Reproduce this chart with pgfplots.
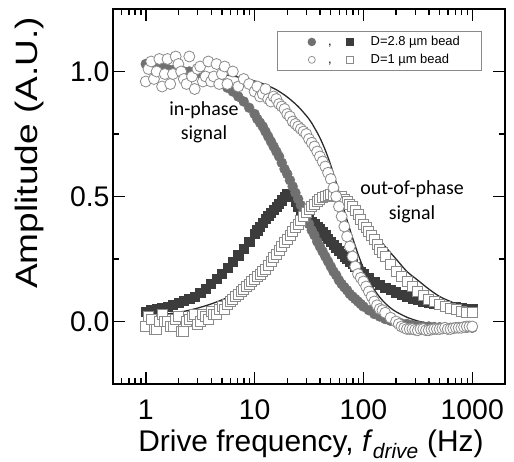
\documentclass[border=0pt]{standalone}
\usepackage{fontspec}
\setmainfont{Liberation Sans}
\newfontfamily\calibri{Carlito}
\usepackage{graphicx}
\usepackage{pgfplots}
\pgfplotsset{compat=1.18}
\definecolor{grayc}{HTML}{707070}
\definecolor{darks}{HTML}{3C3C3C}
\definecolor{openc}{HTML}{8A8A8A}
\definecolor{fitc}{HTML}{2A2A2A}
\begin{document}
\begin{tikzpicture}
\path[use as bounding box] (-113bp,-78bp) rectangle (401bp,384bp);
\begin{axis}[
  at={(0,0)}, anchor=south west, scale only axis,
  width=392bp, height=375bp,
  xmode=log, xmin=0.5, xmax=2000, ymin=-0.25, ymax=1.25,
  xtick={1,10,100,1000}, xticklabels={1,10,100,1000},
  minor xtick={0.5,0.6,0.7,0.8,0.9,2,3,4,5,6,7,8,9,20,30,40,50,60,70,80,90,200,300,400,500,600,700,800,900},
  ytick={0,0.5,1}, yticklabels={0.0,0.5,1.0}, minor ytick={0.25,0.75},
  ticklabel style={font=\fontsize{28.5}{30}\selectfont},
  xticklabel style={yshift=-12bp},
  tick align=inside, major tick length=12bp, minor tick length=6bp,
  xtick style={black, line width=1.5bp},
  ytick style={black, line width=1.5bp},
  separate axis lines,
  axis line style={line width=2bp, line cap=rect},
  xlabel={Drive frequency, \textit{f}\textsubscript{\textit{drive}} (Hz)},
  xlabel style={font=\fontsize{30}{32}\selectfont, at={(axis description cs:0.505,-0.181)}, anchor=base},
  ylabel={\scalebox{1.2}[1]{Amplitude (A.U.)}},
  ylabel style={font=\fontsize{31}{33}\selectfont, at={(axis description cs:-0.214,0.616)}, anchor=center},
  legend style={at={(axis description cs:0.942,0.941)}, anchor=north east,
    draw=openc, line width=0.8bp, font=\fontsize{13}{15}\selectfont, row sep=3bp,
    inner xsep=4bp, inner ysep=3bp,
    /tikz/every odd column/.append style={column sep=15bp}},
  legend cell align=left,
]
\addlegendimage{legend image code/.code={
  \path[draw=none, fill=none] (-30bp,-1bp) rectangle (-30bp,1bp);
  \fill[grayc] (0bp,0bp) circle (3.8bp);
  \node[font=\fontsize{13}{15}\selectfont, inner sep=0pt, anchor=base] at (18bp,-4bp) {,};
  \fill[darks] (34.5bp,-3.5bp) rectangle (41.5bp,3.5bp);
}}
\addlegendentry{D=2.8 µm bead\rule{16bp}{0pt}}
\addlegendimage{legend image code/.code={
  \path[draw=none, fill=none] (-30bp,-1bp) rectangle (-30bp,1bp);
  \draw[openc, fill=white, line width=0.7bp] (0bp,0bp) circle (3.5bp);
  \node[font=\fontsize{13}{15}\selectfont, inner sep=0pt, anchor=base] at (18bp,-4bp) {,};
  \draw[openc, fill=white, line width=0.7bp] (34.8bp,-3.2bp) rectangle (41.2bp,3.2bp);
}}
\addlegendentry{D=1 µm bead}

% 2.8 um out-of-phase (filled dark squares)
\addplot[only marks, mark=square*, mark size=4.6bp, color=darks, forget plot] coordinates {
(1,0.04)(1.122,0.045)(1.259,0.05)(1.413,0.055)(1.585,0.06)(1.778,0.067)(1.995,0.075)(2.239,0.082)(2.512,0.09)(2.818,0.10)
(3.162,0.115)(3.548,0.13)(3.981,0.15)(4.467,0.17)(5.012,0.19)(5.623,0.215)(6.310,0.24)(7.079,0.265)(7.943,0.29)(8.913,0.32)
(10,0.35)(10.59,0.365)(11.22,0.38)(11.89,0.395)(12.59,0.41)(13.34,0.422)(14.13,0.435)(14.96,0.447)(15.85,0.46)(16.79,0.472)
(17.78,0.485)(18.84,0.50)(19.95,0.51)(21.13,0.51)(22.39,0.50)(23.71,0.48)(25.12,0.46)(26.61,0.445)(28.18,0.435)(29.85,0.42)
(31.62,0.41)(33.50,0.40)(35.48,0.39)(37.58,0.38)(39.81,0.37)(42.17,0.357)(44.67,0.345)(47.32,0.332)(50.12,0.32)(53.09,0.307)
(56.23,0.295)(59.57,0.282)(63.10,0.27)(66.83,0.26)(70.79,0.25)(74.99,0.24)(79.43,0.23)(84.14,0.22)(89.13,0.21)(94.41,0.20)
(100,0.19)(112.2,0.175)(125.9,0.16)(141.3,0.147)(158.5,0.135)(177.8,0.126)(199.5,0.117)(223.9,0.108)(251.2,0.10)(281.8,0.093)
(316.2,0.087)(354.8,0.081)(398.1,0.075)(446.7,0.071)(501.2,0.067)(562.3,0.063)(631.0,0.06)(707.9,0.057)(794.3,0.055)(891.3,0.052)(1000,0.05)
};
% 2.8 um in-phase (filled gray circles)
\addplot[only marks, mark=*, mark size=5bp, color=grayc, forget plot] coordinates {
(1,1.03)(1.122,1.025)(1.259,1.02)(1.413,1.015)(1.585,1.01)(1.778,1.005)(1.995,1.0)(2.239,1.0)(2.512,1.0)(2.818,0.995)
(3.162,0.99)(3.548,0.98)(3.981,0.97)(4.467,0.96)(5.012,0.95)(5.623,0.935)(6.310,0.92)(7.079,0.90)(7.943,0.88)(8.913,0.855)
(10,0.83)(10.59,0.81)(11.22,0.795)(11.89,0.78)(12.59,0.76)(13.34,0.74)(14.13,0.72)(14.96,0.70)(15.85,0.68)(16.79,0.66)
(17.78,0.635)(18.84,0.61)(19.95,0.59)(21.13,0.565)(22.39,0.54)(23.71,0.515)(25.12,0.49)(26.61,0.465)(28.18,0.44)(29.85,0.415)
(31.62,0.39)(33.50,0.365)(35.48,0.345)(37.58,0.32)(39.81,0.30)(42.17,0.28)(44.67,0.26)(47.32,0.24)(50.12,0.22)(53.09,0.20)
(56.23,0.185)(59.57,0.165)(63.10,0.15)(66.83,0.137)(70.79,0.125)(74.99,0.11)(79.43,0.10)(84.14,0.09)(89.13,0.08)(94.41,0.07)
(100,0.06)(112.2,0.045)(125.9,0.03)(141.3,0.02)(158.5,0.01)(177.8,0.003)(199.5,-0.003)(223.9,-0.008)(251.2,-0.01)(281.8,-0.014)
(316.2,-0.017)(354.8,-0.02)(398.1,-0.02)(446.7,-0.022)(501.2,-0.023)(562.3,-0.024)(631.0,-0.025)(707.9,-0.025)(794.3,-0.025)(891.3,-0.025)(1000,-0.025)
};
% 1 um out-of-phase (open squares)
\addplot[only marks, mark=square*, mark size=5bp, draw=openc, fill=white, line width=0.8bp, forget plot] coordinates {
(1,-0.02)(1.059,0.02)(1.122,0.01)(1.189,-0.03)(1.259,-0.03)(1.334,0.00)(1.413,0.03)(1.496,0.00)(1.585,0.00)(1.679,-0.02)
(1.778,-0.02)(1.884,0.01)(1.995,0.02)(2.113,-0.04)(2.239,-0.04)(2.371,0.00)(2.512,0.01)(2.661,0.02)(2.818,0.03)(2.985,-0.01)
(3.162,0.00)(3.350,0.03)(3.548,0.02)(3.758,0.01)(3.981,0.04)(4.217,0.03)(4.467,0.03)(4.732,0.05)(5.012,0.06)(5.309,0.05)
(5.623,0.07)(5.957,0.08)(6.310,0.09)(6.683,0.10)(7.079,0.11)(7.499,0.12)(7.943,0.13)(8.414,0.14)(8.913,0.15)(9.441,0.16)
(10,0.17)(10.59,0.18)(11.22,0.19)(11.89,0.20)(12.59,0.21)(13.34,0.225)(14.13,0.24)(14.96,0.255)(15.85,0.27)(16.79,0.285)
(17.78,0.30)(18.84,0.315)(19.95,0.33)(21.13,0.345)(22.39,0.36)(23.71,0.375)(25.12,0.39)(26.61,0.405)(28.18,0.42)(29.85,0.435)
(31.62,0.45)(33.50,0.46)(35.48,0.47)(37.58,0.48)(39.81,0.49)(42.17,0.495)(44.67,0.50)(47.32,0.505)(50.12,0.51)(53.09,0.505)
(56.23,0.50)(59.57,0.50)(63.10,0.50)(66.83,0.49)(70.79,0.48)(74.99,0.47)(79.43,0.46)(84.14,0.445)(89.13,0.43)(94.41,0.41)
(100,0.39)(105.9,0.375)(112.2,0.36)(118.9,0.345)(125.9,0.33)(133.4,0.31)(141.3,0.29)(149.6,0.275)(158.5,0.26)(177.8,0.23)
(199.5,0.20)(223.9,0.18)(251.2,0.16)(281.8,0.14)(316.2,0.12)(354.8,0.105)(398.1,0.09)(446.7,0.08)(501.2,0.07)(562.3,0.06)
(631.0,0.052)(707.9,0.047)(794.3,0.042)(891.3,0.038)(1000,0.035)
};
% 1 um in-phase (open circles)
\addplot[only marks, mark=*, mark size=5.5bp, draw=openc, fill=white, line width=0.8bp, forget plot] coordinates {
(1,0.96)(1.059,1.01)(1.122,1.04)(1.189,0.97)(1.259,1.00)(1.334,1.05)(1.413,0.94)(1.496,0.99)(1.585,1.05)(1.679,0.95)
(1.778,0.99)(1.884,1.06)(1.995,1.03)(2.113,1.00)(2.239,0.97)(2.371,0.95)(2.512,1.06)(2.661,0.98)(2.818,0.93)(2.985,1.01)
(3.162,1.02)(3.350,0.96)(3.548,0.98)(3.758,1.04)(3.981,0.96)(4.217,0.98)(4.467,1.03)(4.732,0.95)(5.012,0.99)(5.309,1.02)
(5.623,0.95)(6.310,1.00)(7.079,0.94)(7.943,0.97)(8.913,0.95)(10,0.92)(10.59,0.94)(11.22,0.90)(11.89,0.91)(12.59,0.93)
(13.34,0.89)(14.13,0.88)(14.96,0.90)(15.85,0.89)(16.79,0.87)(17.78,0.86)(18.84,0.85)(19.95,0.83)(21.13,0.82)(22.39,0.80)
(23.71,0.79)(25.12,0.78)(26.61,0.77)(28.18,0.76)(29.85,0.75)(31.62,0.73)(33.50,0.715)(35.48,0.70)(37.58,0.68)(39.81,0.66)
(42.17,0.64)(44.67,0.62)(47.32,0.595)(50.12,0.57)(53.09,0.535)(56.23,0.50)(59.57,0.46)(63.10,0.42)(66.83,0.38)(70.79,0.34)
(74.99,0.30)(79.43,0.26)(84.14,0.22)(89.13,0.19)(94.41,0.175)(100,0.16)(105.9,0.14)(112.2,0.12)(118.9,0.10)(125.9,0.08)
(133.4,0.065)(141.3,0.05)(149.6,0.045)(158.5,0.035)(177.8,0.015)(199.5,0.0)(211.3,-0.01)(223.9,-0.02)(237.1,-0.025)(251.2,-0.03)
(266.1,-0.03)(281.8,-0.03)(298.5,-0.033)(316.2,-0.035)(335.0,-0.03)(354.8,-0.03)(375.8,-0.035)(398.1,-0.035)(421.7,-0.032)(446.7,-0.03)
(473.2,-0.03)(501.2,-0.03)(530.9,-0.028)(562.3,-0.025)(595.7,-0.03)(631.0,-0.03)(668.3,-0.027)(707.9,-0.025)(749.9,-0.025)(794.3,-0.025)
(841.4,-0.022)(891.3,-0.02)(944.1,-0.02)(1000,-0.02)
};
% fit lines (1 um)
\addplot[fitc, line width=1.3bp, smooth, forget plot] coordinates {
(1,1.0)(1.585,0.999)(2.512,0.997)(3.981,0.992)(6.310,0.982)(10,0.962)(12.59,0.947)(15.85,0.927)(19.95,0.898)(25.12,0.86)
(31.62,0.81)(35.48,0.775)(39.81,0.735)(44.67,0.685)(50.12,0.625)(56.23,0.555)(63.10,0.48)(70.79,0.405)(79.43,0.335)(89.13,0.27)
(100,0.213)(112.2,0.165)(125.9,0.127)(141.3,0.097)(158.5,0.073)(177.8,0.054)(199.5,0.039)(251.2,0.017)(316.2,0.002)(398.1,-0.008)
(501.2,-0.014)(631.0,-0.018)(794.3,-0.02)(1000,-0.022)
};
\addplot[fitc, line width=1.3bp, smooth, forget plot] coordinates {
(1,0.02)(1.585,0.03)(2.512,0.045)(3.981,0.07)(6.310,0.105)(7.943,0.13)(10,0.16)(12.59,0.20)(15.85,0.245)(19.95,0.30)
(25.12,0.36)(31.62,0.42)(39.81,0.47)(50.12,0.50)(56.23,0.50)(63.10,0.49)(79.43,0.46)(100,0.41)(125.9,0.355)(158.5,0.30)
(199.5,0.25)(251.2,0.20)(316.2,0.165)(398.1,0.13)(501.2,0.10)(631.0,0.08)(794.3,0.062)(1000,0.05)
};
\node[font=\calibri\fontsize{20}{25}\selectfont, align=center] at (axis cs:3.43,0.797) {in-phase\\signal};
\node[font=\calibri\fontsize{20}{25}\selectfont, align=center] at (axis cs:280,0.478) {out-of-phase\\signal};
\end{axis}
\end{tikzpicture}
\end{document}
